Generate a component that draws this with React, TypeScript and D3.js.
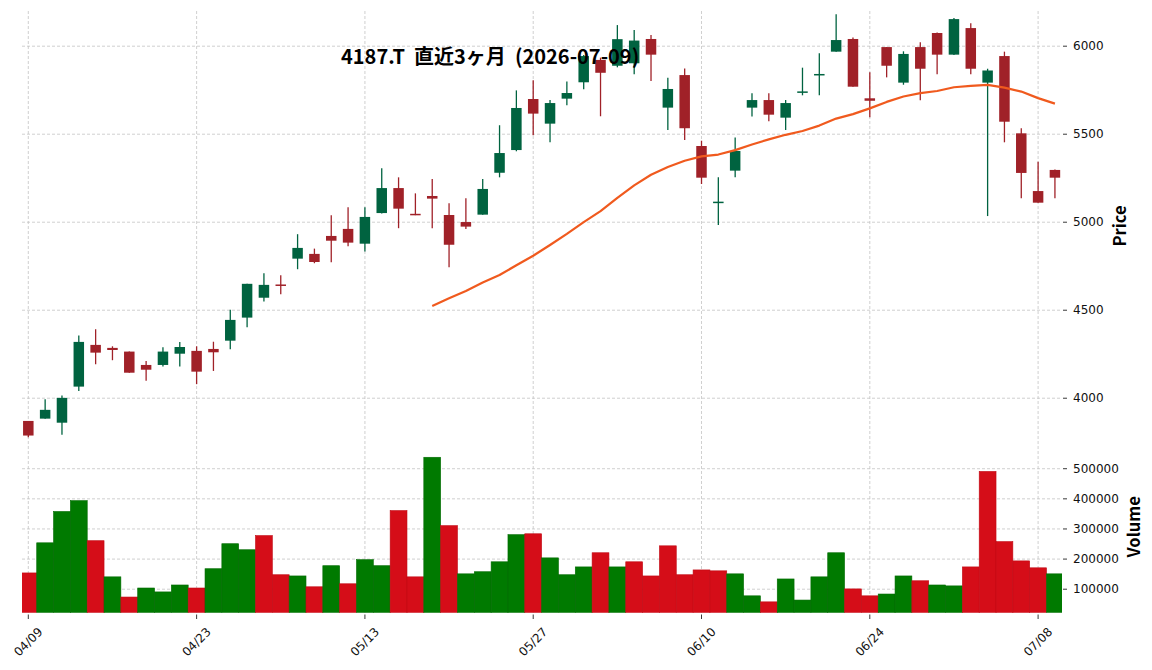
import React from "react";
import * as d3 from "d3";

const dates = [
  "04/09","04/10","04/13","04/14","04/15","04/16","04/17","04/20","04/21","04/22",
  "04/23","04/24","04/27","04/28","04/30","05/01","05/07","05/08","05/11","05/12",
  "05/13","05/14","05/15","05/18","05/19","05/20","05/21","05/22","05/25","05/26",
  "05/27","05/28","05/29","06/01","06/02","06/03","06/04","06/05","06/08","06/09",
  "06/10","06/11","06/12","06/15","06/16","06/17","06/18","06/19","06/22","06/23",
  "06/24","06/25","06/26","06/29","06/30","07/01","07/02","07/03","07/06","07/07",
  "07/08","07/09",
];
const opens = [
  3871,3884,3861,4066,4303,4286,4265,4189,4189,4253,
  4269,4280,4327,4458,4571,4646,4793,4820,4922,4962,
  4878,5052,5194,5045,5149,5041,5001,5043,5281,5410,
  5700,5560,5702,5795,5922,5889,5903,6041,5651,5836,
  5433,5111,5293,5651,5694,5594,5737,5836,5969,6041,
  5704,5995,5793,5995,6075,5952,6103,5793,5944,5505,
  5177,5297,
];
const highs = [
  3871,3994,4015,4356,4392,4295,4265,4212,4290,4320,
  4295,4321,4503,4650,4710,4699,4932,4850,5039,5085,
  5085,5306,5255,5164,5246,5108,5136,5246,5551,5749,
  5806,5694,5800,5950,5935,6120,6092,6064,5821,5874,
  5463,5255,5482,5732,5732,5694,5878,5960,6181,6050,
  5852,5995,5971,6022,6078,6160,6130,5872,5969,5534,
  5344,5300,
];
const lows = [
  3779,3884,3792,4041,4193,4216,4145,4100,4180,4180,
  4080,4155,4278,4403,4549,4591,4733,4767,4772,4863,
  4833,5050,4966,5040,4966,4744,4962,5043,5255,5403,
  5494,5454,5664,5755,5602,5880,5840,5802,5524,5467,
  5217,4984,5255,5600,5573,5524,5721,5721,5969,5770,
  5596,5823,5781,5693,5840,5950,5840,5035,5454,5136,
  5111,5136,
];
const closes = [
  3788,3934,4002,4320,4259,4274,4145,4162,4265,4291,
  4151,4261,4445,4650,4644,4638,4854,4774,4895,4884,
  5030,5194,5077,5042,5134,4872,4975,5189,5393,5649,
  5617,5677,5734,5944,5849,6040,6032,5952,5757,5534,
  5253,5114,5405,5694,5611,5677,5741,5840,6035,5770,
  5690,5889,5956,5872,5952,6154,5872,5862,5571,5280,
  5111,5253,
];
const volumes = [
  154000,254000,358000,394000,261000,141000,74000,104000,91000,114000,
  104000,168000,251000,231000,278000,148000,144000,108000,178000,118000,
  198000,178000,361000,141000,538000,311000,151000,158000,191000,281000,
  284000,204000,148000,174000,221000,174000,191000,144000,244000,148000,
  164000,161000,151000,78000,58000,134000,64000,141000,221000,101000,
  78000,84000,144000,128000,114000,111000,174000,491000,258000,194000,
  171000,151000,
];
const xTickIdx = [0, 10, 20, 30, 40, 50, 60];
const priceTicks = [4000, 4500, 5000, 5500, 6000];
const volTicks = [100000, 200000, 300000, 400000, 500000];
const titleText = "4187.T  直近3ヶ月  (2026-07-09)";
const maPeriod = 25;

const W = 1152, H = 670;
const left = 22, right = 1062;
const pTop = 11, pBottom = 441;
const vTop = 441, vBottom = 612.7;

const UP = "#006340", DOWN = "#A02128";
const VUP = "#007a00", VDOWN = "#d50d18";
const GRID = "#c4c4c4";

export default function App() {
  const n = dates.length;
  const x = d3.scaleLinear().domain([-0.375, 61.42]).range([left, right]);
  const step = x(1) - x(0);
  const y = d3.scaleLinear().domain([3757, 6200]).range([pBottom, pTop]);
  const yv = d3.scaleLinear().domain([22000, 592000]).range([vBottom, vTop]);

  const ma: [number, number][] = [];
  for (let i = maPeriod - 1; i < n; i++) {
    const m = d3.mean(closes.slice(i - maPeriod + 1, i + 1)) as number;
    ma.push([i, m]);
  }
  const maLine = d3.line<[number, number]>().x(d => x(d[0])).y(d => y(d[1]));

  const bodyW = 10.5;
  const font = "DejaVu Sans";
  const cjk = "Noto Sans CJK JP";

  return (
    <svg width={W} height={H} style={{ position: "absolute", left: 0, top: 0, background: "#fff" }}>
      <defs>
        <clipPath id="pclip"><rect x={left} y={pTop} width={right - left} height={pBottom - pTop} /></clipPath>
        <clipPath id="vclip"><rect x={left} y={vTop} width={right - left} height={vBottom - vTop} /></clipPath>
      </defs>
      <rect x={0} y={0} width={W} height={H} fill="#fff" />
      {/* grid */}
      {priceTicks.map(t => (
        <line key={"pg" + t} x1={left} x2={right} y1={y(t)} y2={y(t)} stroke={GRID} strokeWidth={0.8} strokeDasharray="3,2" />
      ))}
      {volTicks.map(t => (
        <line key={"vg" + t} x1={left} x2={right} y1={yv(t)} y2={yv(t)} stroke={GRID} strokeWidth={0.8} strokeDasharray="3,2" />
      ))}
      {xTickIdx.map(i => (
        <line key={"xg" + i} x1={x(i)} x2={x(i)} y1={pTop} y2={vBottom} stroke={GRID} strokeWidth={0.8} strokeDasharray="3,2" />
      ))}
      {/* volume */}
      <g clipPath="url(#vclip)">
        {volumes.map((v, i) => {
          const up = i === 0 ? closes[0] >= opens[0] : closes[i] >= closes[i - 1];
          const c = up ? VUP : VDOWN;
          return (
            <rect key={"v" + i} x={x(i) - step / 2} width={step} y={yv(v)} height={vBottom - yv(v)}
              fill={c} stroke={up ? "#006a00" : "#c00a14"} strokeWidth={0.6} />
          );
        })}
      </g>
      {/* candles */}
      <g clipPath="url(#pclip)">
        {dates.map((d, i) => {
          const up = closes[i] >= opens[i];
          const c = up ? UP : DOWN;
          const top = y(Math.max(opens[i], closes[i]));
          const bot = y(Math.min(opens[i], closes[i]));
          const h = Math.max(bot - top, 1.5);
          return (
            <g key={"c" + i}>
              <line x1={x(i)} x2={x(i)} y1={y(highs[i])} y2={y(lows[i])} stroke={c} strokeWidth={1.3} />
              <rect x={x(i) - bodyW / 2} width={bodyW} y={h === 1.5 ? (top + bot) / 2 - 0.75 : top} height={h} fill={c} />
            </g>
          );
        })}
        <path d={maLine(ma) || ""} fill="none" stroke="#f05a1e" strokeWidth={2.2} strokeLinejoin="round" />
      </g>
      {/* x ticks */}
      {xTickIdx.map(i => (
        <g key={"xt" + i}>
          <line x1={x(i)} x2={x(i)} y1={614.5} y2={619} stroke="#222" strokeWidth={0.9} />
          <text transform={`translate(${x(i)},642) rotate(-45)`} textAnchor="middle" dominantBaseline="central"
            fontFamily={font} fontSize={12} fill="#111">{dates[i]}</text>
        </g>
      ))}
      {/* right y ticks */}
      {priceTicks.map(t => (
        <g key={"pt" + t}>
          <line x1={right + 1} x2={right + 5} y1={y(t)} y2={y(t)} stroke="#222" strokeWidth={0.9} />
          <text x={right + 11} y={y(t)} dominantBaseline="central" fontFamily={font} fontSize={12} fill="#111">{t}</text>
        </g>
      ))}
      {volTicks.map(t => (
        <g key={"vt" + t}>
          <line x1={right + 1} x2={right + 5} y1={yv(t)} y2={yv(t)} stroke="#222" strokeWidth={0.9} />
          <text x={right + 11} y={yv(t)} dominantBaseline="central" fontFamily={font} fontSize={12} fill="#111">{t}</text>
        </g>
      ))}
      <text transform={`translate(1119,${(pTop + pBottom) / 2}) rotate(-90)`} textAnchor="middle" dominantBaseline="central"
        fontFamily={cjk} fontWeight="bold" fontSize={16.5} fill="#000">Price</text>
      <text transform={`translate(1133,${(vTop + vBottom) / 2}) rotate(-90)`} textAnchor="middle" dominantBaseline="central"
        fontFamily={cjk} fontWeight="bold" fontSize={16.5} fill="#000">Volume</text>
      <text x={341} y={63.5} fontFamily={cjk} fontWeight="bold" fontSize={20} fill="#000" style={{ whiteSpace: "pre" }}>{titleText}</text>
    </svg>
  );
}
